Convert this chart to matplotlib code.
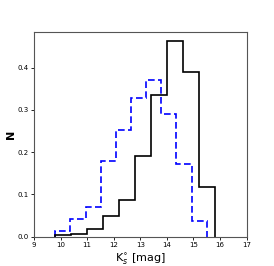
import matplotlib
matplotlib.use("Agg")
import matplotlib.pyplot as plt
import numpy as np

black_edges = [9.8, 10.4, 11.0, 11.6, 12.2, 12.8, 13.4, 14.0, 14.6, 15.2, 15.82]
black_vals = [0.004, 0.006, 0.018, 0.048, 0.087, 0.192, 0.335, 0.462, 0.390, 0.117]
blue_edges = [9.8, 10.37, 10.94, 11.51, 12.08, 12.65, 13.22, 13.79, 14.36, 14.93, 15.5]
blue_vals = [0.014, 0.042, 0.070, 0.180, 0.253, 0.329, 0.370, 0.290, 0.173, 0.038]
xticks = [9, 10, 11, 12, 13, 14, 15, 16, 17]
yticks = [0.0, 0.1, 0.2, 0.3, 0.4]

fig = plt.figure(figsize=(2.74, 2.66), dpi=100)
ax = fig.add_axes([0.124, 0.11, 0.776, 0.769])
ax.stairs(blue_vals, blue_edges, color="blue", linestyle=(0, (4, 2)), linewidth=1.2)
ax.stairs(black_vals, black_edges, color="black", linewidth=1.2)
ax.set_xlim(9, 17)
ax.set_ylim(0, 0.484)
ax.set_xticks(xticks)
ax.set_yticks(yticks)
ax.set_yticklabels([f"{v:.1f}" for v in yticks])
ax.tick_params(labelsize=5, length=2, width=0.6, pad=1.5)
for s in ax.spines.values():
    s.set_linewidth(0.8)
    s.set_color("#555555")
ax.set_xlabel(r"K$_s^{\circ}$ [mag]", fontsize=8, labelpad=3)
ax.set_ylabel("N", fontsize=8, fontweight="bold")
ax.yaxis.set_label_coords(-0.085, 0.5)
fig.savefig("out.png", dpi=100)
